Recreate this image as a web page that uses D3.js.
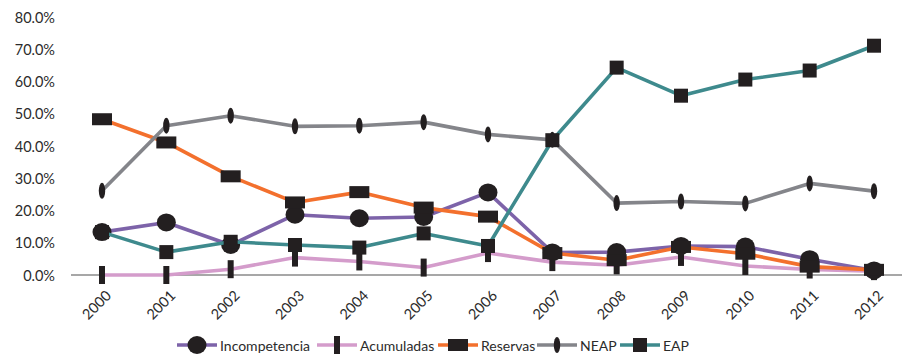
<!DOCTYPE html>
<html><head><meta charset="utf-8">
<script src="https://cdn.jsdelivr.net/npm/d3@7"></script>
<style>body{margin:0;background:#fff}svg{display:block}text{font-family:Lato,"Open Sans",sans-serif}</style>
</head><body><svg id="c" width="902" height="355"></svg>
<script>
const years = ["2000","2001","2002","2003","2004","2005","2006","2007","2008","2009","2010","2011","2012"];
const incompetencia = [13.3,16.3,9.3,18.7,17.6,18.0,25.6,7.0,7.1,9.0,8.8,4.9,1.4];
const acumuladas   = [0,0,1.8,5.4,4.2,2.3,6.8,4.0,3.0,5.6,2.8,1.7,1.2];
const reservas     = [48.3,41.1,30.6,22.5,25.7,20.9,18.1,6.8,4.6,8.7,6.6,2.6,1.6];
const neap         = [26.1,46.3,49.4,46.1,46.3,47.4,43.6,41.9,22.3,22.8,22.2,28.4,26.0];
const eap          = [13.3,7.1,10.3,9.3,8.5,12.9,9.0,41.8,64.3,55.6,60.6,63.4,71.1];
const yTicks = [0,10,20,30,40,50,60,70,80];
const seriesNames = ["Incompetencia","Acumuladas","Reservas","NEAP","EAP"];
const seriesColors = ["#7d63a9","#d49ccb","#f3702d","#84858a","#3e8a8d"];
const seriesMarkers = ["circle","bar","wide","ellipse","square"];
const seriesValues = [incompetencia,acumuladas,reservas,neap,eap];

const svg = d3.select("#c");
const x = d3.scalePoint().domain(years).range([102,874]);
const y = d3.scaleLinear().domain([0,80]).range([275,17]);

const yAxis = d3.axisLeft(y).tickValues(yTicks).tickSize(0).tickPadding(0).tickFormat(d=>d.toFixed(1)+"%");
const ya = svg.append("g").attr("transform","translate(55,0)").call(yAxis);
ya.select(".domain").remove();
ya.selectAll("text").attr("font-size","14.5px").attr("fill","#2b2b2b").attr("font-family","Lato,sans-serif").attr("dy","0.35em");

svg.append("line").attr("x1",71).attr("x2",902).attr("y1",y(0)).attr("y2",y(0)).attr("stroke","#8a8a8a").attr("stroke-width",1.5);
const xAxis = d3.axisBottom(x).tickSize(0).tickPadding(0);
const xa = svg.append("g").attr("transform",`translate(0,${y(0)+18})`).call(xAxis);
xa.select(".domain").remove();
xa.selectAll("text").attr("font-size","14.5px").attr("fill","#2b2b2b").attr("font-family","Lato,sans-serif")
  .attr("text-anchor","end").attr("dy","0.35em").attr("transform","translate(6,0) rotate(-45)");

function marker(g, type, cx, cy){
  const f="#231f20";
  if(type==="circle") g.append("ellipse").attr("cx",cx).attr("cy",cy).attr("rx",9.5).attr("ry",9).attr("fill",f);
  else if(type==="bar") g.append("rect").attr("x",cx-3).attr("y",cy-9).attr("width",6).attr("height",18).attr("fill",f);
  else if(type==="wide") g.append("rect").attr("x",cx-10).attr("y",cy-6).attr("width",20).attr("height",12).attr("fill",f);
  else if(type==="ellipse") g.append("ellipse").attr("cx",cx).attr("cy",cy).attr("rx",3.2).attr("ry",8).attr("fill",f);
  else if(type==="square") g.append("rect").attr("x",cx-7).attr("y",cy-7).attr("width",14).attr("height",14).attr("fill",f);
}

const line = d3.line().x((d,i)=>x(years[i])).y(d=>y(d));
seriesValues.forEach((vals,si)=>{
  const g = svg.append("g");
  g.append("path").attr("d",line(vals)).attr("fill","none").attr("stroke",seriesColors[si]).attr("stroke-width",3.6).attr("stroke-linejoin","round");
  vals.forEach((v,i)=>marker(g,seriesMarkers[si],x(years[i]),y(v)));
});

const legX = [177,317,438,537,620];
const ly = 345;
seriesNames.forEach((n,i)=>{
  const g = svg.append("g");
  g.append("line").attr("x1",legX[i]).attr("x2",legX[i]+40).attr("y1",ly).attr("y2",ly).attr("stroke",seriesColors[i]).attr("stroke-width",3.6);
  marker(g,seriesMarkers[i],legX[i]+20,ly);
  g.append("text").attr("x",legX[i]+43).attr("y",ly+1).attr("dy","0.35em").attr("font-size","14px").attr("fill","#2b2b2b").text(n);
});
</script></body></html>
